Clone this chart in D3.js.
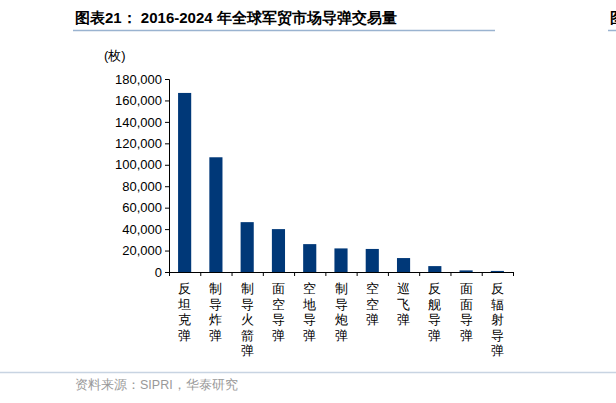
<!DOCTYPE html><html><head><meta charset="utf-8">
<script src="https://cdn.jsdelivr.net/npm/d3@7"></script>
<style>body{margin:0;background:#fff}text{font-family:"Liberation Sans",Arial,sans-serif}</style></head><body>
<svg id="c" width="616" height="403"></svg>
<script>
const categories=["反坦克弹","制导炸弹","制导火箭弹","面空导弹","空地导弹","制导炮弹","空空弹","巡飞弹","反舰导弹","面面导弹","反辐射导弹"];
const values=[167000,107000,46500,40000,26000,22000,21500,13000,5500,1500,1000];
const yTicks=[0,20000,40000,60000,80000,100000,120000,140000,160000,180000];
const svg=d3.select("#c");
const cjk='"Noto Sans CJK SC",sans-serif';
svg.append("text").attr("x",75).attr("y",23).attr("font-size",15).attr("font-weight","bold").attr("font-family",cjk).attr("fill","#000").text("图表21：  2016-2024 年全球军贸市场导弹交易量");
svg.append("line").attr("x1",73).attr("x2",495).attr("y1",30.5).attr("y2",30.5).attr("stroke","#9ab3d0").attr("stroke-width",1.5);
svg.append("line").attr("x1",608).attr("x2",616).attr("y1",30.5).attr("y2",30.5).attr("stroke","#9ab3d0").attr("stroke-width",1.5);
svg.append("text").attr("x",610).attr("y",23).attr("font-size",15).attr("font-weight","bold").attr("font-family",cjk).text("图");
const x=d3.scaleBand().domain(categories).range([169,513]).paddingInner(0.58).paddingOuter(0.29);
const y=d3.scaleLinear().domain([0,180000]).range([272,79]);
const ya=svg.append("g").attr("transform","translate(169,0)").call(d3.axisLeft(y).tickValues(yTicks).tickFormat(d3.format(",")).tickSize(4));
ya.selectAll("text").attr("font-size",13).attr("fill","#000");
ya.selectAll("line,path").attr("stroke","#000");
const xa=svg.append("g").attr("transform","translate(0,272)").call(d3.axisBottom(d3.scaleLinear().domain([0,11]).range([169,513])).ticks(11).tickSize(4).tickFormat(""));
xa.selectAll("line,path").attr("stroke","#000");
svg.selectAll("rect.b").data(values).join("rect").attr("x",(d,i)=>x(categories[i])).attr("width",x.bandwidth()).attr("y",d=>y(d)).attr("height",d=>272-y(d)).attr("fill","#003878");
categories.forEach(c=>{const t=svg.append("text").attr("font-size",13).attr("font-family",cjk).attr("text-anchor","middle");
 [...c].forEach((ch,j)=>t.append("tspan").attr("x",x(c)+x.bandwidth()/2).attr("y",293+j*15.5).text(ch));});
svg.append("text").attr("x",104).attr("y",60).attr("font-size",13).attr("font-family",cjk).text("(枚)");
svg.append("line").attr("x1",0).attr("x2",616).attr("y1",372.5).attr("y2",372.5).attr("stroke","#c8d4e2").attr("stroke-width",1.5);
svg.append("text").attr("x",75).attr("y",389).attr("font-size",12.5).attr("fill","#999").attr("font-family",cjk).text("资料来源：SIPRI，华泰研究");
</script></body></html>
